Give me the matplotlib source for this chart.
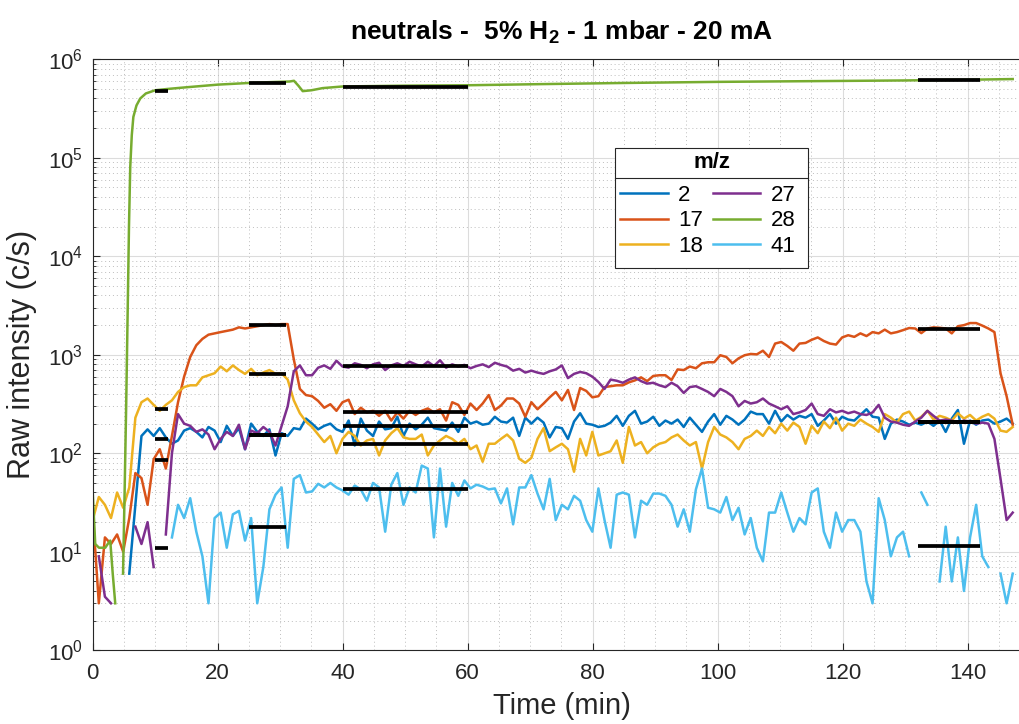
import numpy as np
import matplotlib
matplotlib.use("Agg")
import matplotlib.pyplot as plt
from matplotlib.lines import Line2D
from matplotlib.patches import Rectangle
from matplotlib.ticker import LogLocator, NullFormatter, MultipleLocator

plt.rcParams['font.family'] = ['Liberation Sans', 'DejaVu Sans']
plt.rcParams['mathtext.fontset'] = 'custom'
plt.rcParams['mathtext.rm'] = 'Liberation Sans'
plt.rcParams['mathtext.bf'] = 'Liberation Sans:bold'

nan = np.nan

# ---------------------------------
# Data
# ---------------------------------

# sampling times of the mass spectrometer (min)
time = np.linspace(0, 147.2, 152)

mz2 = [nan, nan, nan, nan, nan, nan, 6, 30, 150, 175,
       150, 180, 145, 125, 135, 170, 180, 165, 145, 185,
       170, 130, 190, 150, 180, 110, 200, 165, 150, 175,
       95, 160, 150, 180, 175, 225, 200, 175, 190, 200,
       175, 165, 215, 120, 225, 170, 150, 210, 175, 180,
       235, 150, 200, 175, 195, 230, 180, 175, 170, 205,
       165, 230, 200, 210, 195, 200, 235, 210, 205, 230,
       150, 230, 200, 230, 205, 145, 185, 180, 140, 210,
       255, 200, 195, 185, 190, 205, 240, 190, 240, 270,
       200, 210, 235, 190, 215, 200, 220, 185, 230, 195,
       165, 210, 250, 195, 240, 220, 195, 220, 265, 250,
       250, 200, 270, 210, 245, 220, 240, 230, 250, 190,
       215, 250, 200, 235, 220, 215, 245, 280, 235, 230,
       140, 200, 220, 210, 195, 205, 195, 210, 190, 215,
       165, 225, 275, 125, 215, 195, 215, 220, 200, 210,
       225, 200]

mz17 = [25, 3, 14, 12, 15, 10, 22, 63, 56, 30,
        87, 110, 70, 150, 330, 600, 950, 1250, 1450, 1600,
        1650, 1700, 1750, 1800, 1900, 1850, 1900, 1950, 2000, 2050,
        2000, 2050, 2050, 900, 450, 390, 380, 340, 290, 315,
        270, 330, 350, 250, 290, 260, 270, 240, 270, 215,
        260, 225, 270, 245, 270, 285, 260, 280, 215, 330,
        310, 245, 320, 275, 320, 390, 275, 305, 360, 360,
        320, 235, 330, 280, 320, 370, 420, 345, 440, 275,
        460, 430, 370, 380, 470, 480, 490, 490, 525, 550,
        590, 540, 610, 620, 620, 555, 710, 700, 760, 730,
        820, 840, 840, 990, 950, 820, 920, 990, 1020, 1010,
        1100, 950, 1300, 1350, 1230, 1100, 1300, 1320, 1420, 1500,
        1380, 1300, 1270, 1500, 1580, 1520, 1650, 1550, 1700, 1650,
        1800, 1650, 1700, 1780, 1870, 1850, 1660, 1850, 1900, 1880,
        1850, 1650, 1950, 2000, 2100, 2100, 1980, 1850, 1700, 650,
        380, 195]

mz18 = [21, 36, 30, 22, 40, 28, 45, 230, 330, 360,
        310, 270, 310, 345, 420, 470, 490, 490, 590, 620,
        650, 760, 680, 780, 700, 640, 720, 620, 660, 700,
        640, 650, 560, 345, 255, 210, 185, 155, 130, 150,
        100, 140, 165, 150, 120, 135, 140, 95, 135, 160,
        180, 145, 140, 140, 155, 95, 120, 135, 150, 140,
        125, 140, 110, 120, 82, 125, 125, 140, 155, 135,
        88, 80, 90, 140, 180, 105, 115, 125, 110, 65,
        140, 95, 165, 95, 100, 105, 135, 80, 185, 120,
        130, 100, 115, 125, 130, 145, 155, 135, 120, 130,
        70, 130, 185, 155, 145, 130, 110, 140, 150, 170,
        150, 185, 160, 200, 170, 205, 185, 125, 190, 160,
        210, 180, 230, 170, 200, 190, 220, 200, 185, 165,
        250, 230, 205, 250, 265, 215, 235, 270, 220, 240,
        230, 215, 255, 225, 245, 215, 235, 250, 225, 170,
        165, 185]

mz27 = [nan, 9, 3.5, 3, nan, nan, nan, 18, 12, 20,
        7, nan, 15, 100, 250, 200, 190, 165, 175, 155,
        110, 140, 165, 150, 195, 110, 170, 160, 185, 165,
        120, 190, 300, 680, 780, 620, 620, 740, 780, 720,
        870, 760, 740, 820, 790, 730, 800, 830, 700, 780,
        820, 770, 850, 800, 760, 850, 770, 880, 740, 800,
        760, 790, 730, 770, 800, 750, 830, 790, 760, 690,
        720, 660, 690, 660, 640, 680, 710, 780, 580, 640,
        670, 650, 600, 530, 450, 560, 545, 520, 560, 590,
        540, 510, 520, 490, 470, 520, 480, 410, 470, 480,
        450, 420, 380, 450, 420, 380, 300, 340, 320, 330,
        360, 320, 300, 280, 300, 250, 260, 275, 320, 250,
        240, 280, 260, 270, 255, 265, 250, 245, 260, 310,
        230, 210, 205, 195, 190, 210, 230, 270, 240, 215,
        220, 215, 205, 215, 210, 200, 205, 200, 140, 55,
        21, 25]

mz41 = [nan, nan, nan, nan, nan, nan, nan, nan, nan, nan,
        nan, nan, nan, 14, 30, 22, 35, 16, 9, 3,
        22, 25, 11, 24, 26, 13, 22, 3, 7, 27,
        38, 45, 11, 55, 60, 40, 41, 49, 45, 50,
        45, 42, 38, 47, 43, 33, 50, 45, 16, 48,
        63, 30, 45, 40, 75, 70, 14, 70, 18, 50,
        37, 53, 44, 48, 46, 43, 44, 31, 44, 19,
        45, 45, 60, 39, 27, 55, 21, 30, 27, 37,
        33, 21, 16, 44, 21, 11, 38, 40, 38, 14,
        33, 30, 39, 39, 37, 30, 18, 27, 16, 43,
        70, 28, 27, 25, 36, 21, 28, 15, 22, 11,
        8, 25, 25, 40, 25, 16, 22, 19, 40, 44,
        16, 11, 25, 16, 21, 21, 16, 5, 3, 35,
        21, 9, 14, 16, 9, nan, 40, 30, nan, 5,
        18, 5, 14, 4, 14, 30, 9, 7, nan, 6,
        3, 6]

# m/z 28 is smooth, fewer points
time28 = [0, 0.4, 1.0, 2.0, 2.4, 2.8, 3.2, 3.6, 4.2, 4.85,
          5.1, 5.35, 5.6, 5.8, 6.0, 6.25, 6.5, 7.0, 7.6, 8.5,
          10, 12, 15, 20, 25, 28, 31.5, 32.2, 32.9, 33.6,
          35, 36.8, 40, 50, 60, 72, 85, 100, 115, 130,
          140, 147.2]
mz28 = [40, 12, 11, 11, 12, 13, 6, 3, nan, 6,
        40, 300, 3000, 2e4, 8e4, 1.7e5, 2.6e5, 3.4e5, 4e5, 4.5e5,
        4.85e5, 5e5, 5.2e5, 5.53e5, 5.75e5, 5.85e5, 5.95e5, 6.05e5, 5.4e5, 4.75e5,
        4.85e5, 5.1e5, 5.3e5, 5.4e5, 5.45e5, 5.6e5, 5.75e5, 5.9e5, 6.0e5, 6.1e5,
        6.2e5, 6.3e5]

# averaging windows (min) and mean values
avg_start = [10, 25, 40, 132]
avg_end = [12, 31, 60, 142]
avg_values = {
    '2': [141, 152, 188, 208],
    '17': [86, 1990, 263, 1846],
    '18': [284, 644, 125, 208],
    '27': [11, 152, 770, 208],
    '28': [4.77e5, 5.75e5, 5.24e5, 6.22e5],
    '41': [nan, 17.9, 43.8, 11.4],
}

labels = ['2', '17', '18', '27', '28', '41']
colors = ['#0072BD', '#D95319', '#EDB120', '#7E2F8E', '#77AC30', '#4DBEEE']

# ---------------------------------
# Plot
# ---------------------------------

W, H = 1019, 724
fig = plt.figure(figsize=(W / 100, H / 100), dpi=100)
ax = fig.add_axes([0.0910, 0.1018, 0.9200, 0.8163])

series = [(time, mz2), (time, mz17), (time, mz18), (time, mz27), (time28, mz28), (time, mz41)]
for (t, v), lab, col in zip(series, labels, colors):
    ax.plot(t, v, color=col, lw=1.8, label=lab)

for lab in labels:
    for s, e, v in zip(avg_start, avg_end, avg_values[lab]):
        if np.isnan(v):
            continue
        ax.plot([s, e], [v, v], color='k', lw=2.7, solid_capstyle='butt', zorder=5)

ax.set_yscale('log')
ax.set_xlim(0, 150)
ax.set_ylim(1, 1e6)
ax.xaxis.set_major_locator(MultipleLocator(20))
ax.xaxis.set_minor_locator(MultipleLocator(5))
ax.yaxis.set_major_locator(LogLocator(base=10, numticks=10))
ax.yaxis.set_minor_locator(LogLocator(base=10, subs=np.arange(2, 10), numticks=20))
ax.yaxis.set_minor_formatter(NullFormatter())

ax.grid(which='major', color='#dcdcdc', lw=0.8)
ax.grid(which='minor', color='#bdbdbd', lw=0.7, ls=(0, (1, 3)))
ax.set_axisbelow(True)

dark = '#262626'
ax.tick_params(which='both', direction='in', top=True, right=True, colors=dark, labelsize=16)
ax.tick_params(axis='x', which='major', length=5, width=0.8, pad=9)
ax.tick_params(axis='y', which='major', length=5, width=0.8, pad=7)
ax.tick_params(axis='x', which='minor', length=0)
ax.tick_params(axis='y', which='minor', length=2.5, width=0.6)
for sp in ax.spines.values():
    sp.set_color(dark)
    sp.set_linewidth(0.8)

ax.set_xlabel('Time (min)', fontsize=21, color=dark, labelpad=6)
ax.set_ylabel('Raw intensity (c/s)', fontsize=22, color=dark, labelpad=8)
ax.set_title(r'neutrals -  5% H$_\mathbf{2}$ - 1 mbar - 20 mA', fontsize=19,
             fontweight='bold', pad=14)

# legend: box with a title row and a separator, entries in two columns
box_l, box_t, box_r, box_b = 615, 148, 808, 268
ax.add_patch(Rectangle((box_l / W, 1 - box_b / H), (box_r - box_l) / W, (box_b - box_t) / H,
                       transform=fig.transFigure, fc='white', ec=dark, lw=0.8,
                       zorder=6, clip_on=False))
ax.add_line(Line2D([box_l / W, box_r / W], [1 - 178 / H, 1 - 178 / H],
                   transform=fig.transFigure, color=dark, lw=0.8, zorder=7, clip_on=False))
ax.text((box_l + box_r) / 2 / W, 1 - 163 / H, 'm/z', transform=fig.transFigure,
        ha='center', va='center', fontsize=16, fontweight='bold', zorder=7)

leg = ax.legend(ncol=2, loc='upper left', bbox_to_anchor=(620 / W, 1 - 185 / H),
                bbox_transform=fig.transFigure, borderaxespad=0, borderpad=0,
                fontsize=16, frameon=False, handlelength=2.15, handletextpad=0.45,
                columnspacing=0.45, labelspacing=0.2)
leg.set_zorder(8)

fig.savefig('out.png', dpi=100)
